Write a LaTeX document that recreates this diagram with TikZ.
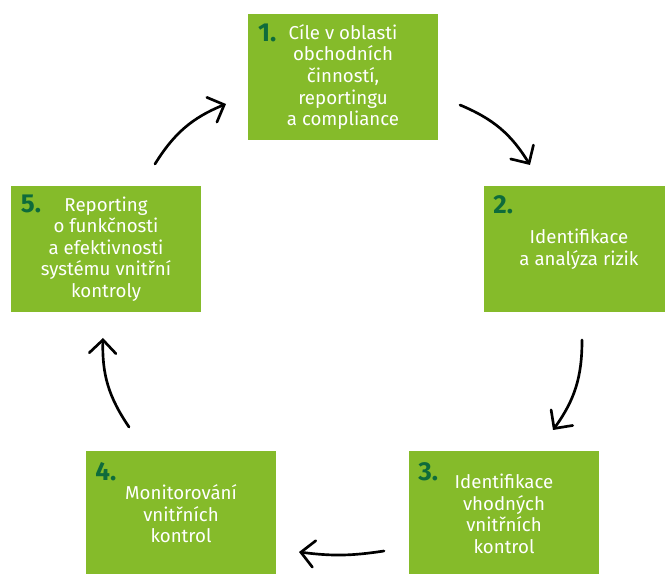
\documentclass[tikz,border=0pt]{standalone}
\usepackage{fontspec}
\setmainfont{Fira Sans}
\usepackage{tikz}
\usetikzlibrary{arrows.meta,
                positioning,}
\definecolor{cgreen}{HTML}{85BB2A}
\definecolor{cdark}{HTML}{0E6B3B}

\tikzset{
  box/.style={rectangle, fill=cgreen, text=white, align=center, inner sep=0pt,
    minimum width=142.5pt, minimum height=94.5pt,
    font=\fontsize{14}{16.2}\selectfont},
  num/.style={anchor=north west, inner sep=0pt, text=cdark,
    font=\fontsize{19.5}{19.5}\selectfont\bfseries},
  cyc/.style={line width=2pt, line cap=round,
    -{Straight Barb[length=10pt,width=20pt,line cap=round]}}
}

\begin{document}
\begin{tikzpicture}[line cap=round,line join=round,x=0.75pt,y=0.75pt]
\useasboundingbox (0,0) rectangle (665,574);
\clip (0,0) rectangle (665,574);
% boxes
\node[box] (b1) at (343,497) {Cíle v oblasti\\obchodních\\činností,\\reportingu\\a compliance};
\node[box] (b2) at (579,325) {Identifikace\\a analýza rizik};
\node[box] (b3) at (504,60) {Identifikace\\vhodných\\vnitřních\\kontrol};
\node[box] (b4) at (181,60) {Monitorování\\vnitřních\\kontrol};
\node[box] (b5) at (106,325) {Reporting\\o funkčnosti\\a efektivnosti\\systému vnitřní\\kontroly};
% numbers
\node[num] (n1) at ([shift={(7.5pt,-7.5pt)}]b1.north west) {1.};
\node[num] (n2) at ([shift={(7pt,-7pt)}]b2.north west) {2.};
\node[num] (n3) at ([shift={(7pt,-8.5pt)}]b3.north west) {3.};
\node[num] (n4) at ([shift={(7pt,-8.5pt)}]b4.north west) {4.};
\node[num] (n5) at ([shift={(7.5pt,-7pt)}]b5.north west) {5.};
% arrow ends
\coordinate (a1s) at (155,410);
\coordinate (a1e) at (226,470);
\coordinate (a2s) at (460,469);
\coordinate (a2e) at (530,409);
\coordinate (a3s) at (582,234);
\coordinate (a3e) at (553,144);
\coordinate (a4s) at (384,23);
\coordinate (a4e) at (299,22);
\coordinate (a5s) at (129,147);
\coordinate (a5e) at (103,236);
% cycle
\draw[cyc] (a1s) to[bend left=18] (a1e);
\draw[cyc] (a2s) to[bend left=18] (a2e);
\draw[cyc] (a3s) to[bend left=18] (a3e);
\draw[cyc] (a4s) to[bend left=8] (a4e);
\draw[cyc] (a5s) to[bend left=18] (a5e);
\end{tikzpicture}
\end{document}
